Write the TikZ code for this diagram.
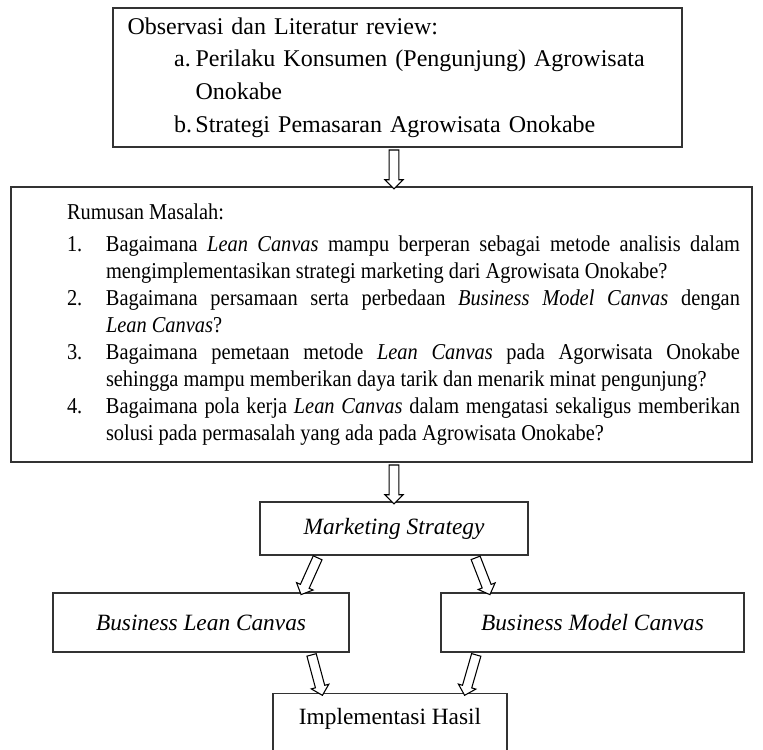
\documentclass[tikz,border=0pt]{standalone}
\usepackage{fontspec}
\setmainfont{Liberation Serif}
\newfontfamily\narrowfont{Liberation Serif}[FakeStretch=0.9]
\usetikzlibrary{calc,shapes.arrows}
\newcommand\rmitem[2]{\hangindent=29.25pt\hangafter=1\noindent\makebox[29.25pt][l]{#1}#2\par}
\newcommand\blockarrow[2]{\path let \p1=#1, \p2=#2, \n1={atan2(\y2-\y1,\x2-\x1)}, \n2={veclen(\x2-\x1,\y2-\y1)} in
  node[myarrow,rotate=\n1,minimum height=\n2] at ($(\p1)!0.5!(\p2)$) {};}

\begin{document}
\begin{tikzpicture}[x=0.75pt,y=-0.75pt,
  mybox/.style={rectangle,draw=linegray,line width=0.9pt,inner sep=0pt},
  myarrow/.style={single arrow,draw=black,fill=white,line width=0.8pt,inner xsep=0pt,inner ysep=3.2pt,
    single arrow head extend=3.2pt,single arrow head indent=0pt}]
\definecolor{linegray}{HTML}{333333}
\useasboundingbox (0,0) rectangle (763,749);
\node [mybox,minimum width=426.75pt,minimum height=104.25pt,text width=405pt,align=left,
  font=\fontsize{18pt}{24.4pt}\selectfont] (obs) at (397.5,77.5)
  {Observasi dan Literatur review:\\
   \hspace*{35pt}\makebox[16pt][l]{a.}Perilaku Konsumen (Pengunjung) Agrowisata\\
   \hspace*{51pt}Onokabe\\
   \hspace*{35pt}\makebox[16pt][l]{b.}Strategi Pemasaran Agrowisata Onokabe};
\node [mybox,minimum width=555.75pt,minimum height=206.25pt,text width=537.75pt,align=justify,
  font=\narrowfont\fontsize{17pt}{20.25pt}\selectfont] (rm) at (381.5,324.5)
  {\leftskip=33pt\noindent Rumusan Masalah:\par\vspace{3.75pt}
   \rmitem{1.}{Bagaimana \textit{Lean Canvas} mampu berperan sebagai metode analisis dalam\linebreak mengimplementasikan strategi marketing dari Agrowisata Onokabe?}
   \rmitem{2.}{Bagaimana persamaan serta perbedaan \textit{Business Model Canvas} dengan\linebreak \textit{Lean Canvas}?}
   \rmitem{3.}{Bagaimana pemetaan metode \textit{Lean Canvas} pada Agorwisata Onokabe\linebreak sehingga mampu memberikan daya tarik dan menarik minat pengunjung?}
   \rmitem{4.}{Bagaimana pola kerja \textit{Lean Canvas} dalam mengatasi sekaligus memberikan\linebreak solusi pada permasalah yang ada pada Agrowisata Onokabe?}};
\node [mybox,minimum width=201pt,minimum height=39.75pt,font=\fontsize{17.5pt}{20pt}\selectfont\itshape] (ms) at (394,528.5) {Marketing Strategy};
\node [mybox,minimum width=222pt,minimum height=44.25pt,font=\fontsize{17.5pt}{20pt}\selectfont\itshape] (blc) at (201,622.5) {Business Lean Canvas};
\node [mybox,minimum width=227.25pt,minimum height=44.25pt,font=\fontsize{17.5pt}{20pt}\selectfont\itshape] (bmc) at (592.5,622.5) {Business Model Canvas};
\node [mybox,anchor=north,minimum width=175.5pt,text height=12pt,text depth=40pt,inner ysep=11pt,
  font=\fontsize{17.5pt}{20pt}\selectfont] (ih) at (390,693) {Implementasi Hasil};
% connectors
\blockarrow{(obs.south -| ms.north)}{(rm.north -| ms.north)}
\blockarrow{(rm.south -| ms.north)}{(ms.north)}
\blockarrow{($(ms.south west)!0.22!(ms.south east)$)}{($(blc.north west)!0.84!(blc.north east)$)}
\blockarrow{($(ms.south west)!0.80!(ms.south east)$)}{($(bmc.north west)!0.16!(bmc.north east)$)}
\blockarrow{($(blc.south west)!0.87!(blc.south east)$)}{($(ih.north west)!0.21!(ih.north east)$)}
\blockarrow{($(bmc.south west)!0.12!(bmc.south east)$)}{($(ih.north west)!0.82!(ih.north east)$)}
\end{tikzpicture}
\end{document}
